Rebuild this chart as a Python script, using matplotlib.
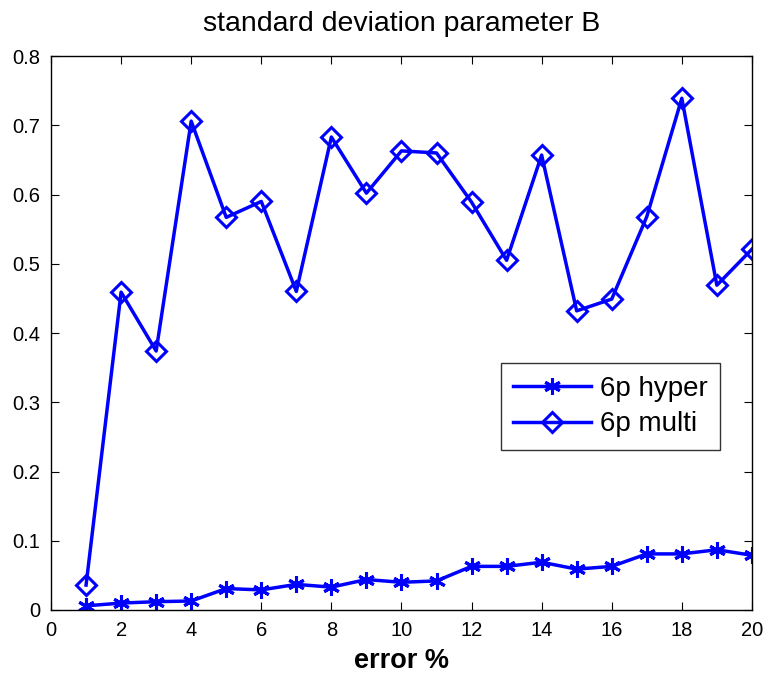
import matplotlib
matplotlib.use('Agg')
import matplotlib.pyplot as plt

plt.rcParams['font.family'] = ['Liberation Sans', 'DejaVu Sans']

err = list(range(1, 21))
hyper = [0.006, 0.010, 0.012, 0.013, 0.031, 0.029, 0.037, 0.033, 0.044, 0.040,
         0.042, 0.063, 0.063, 0.069, 0.059, 0.063, 0.081, 0.081, 0.087, 0.079]
multi = [0.036, 0.459, 0.374, 0.706, 0.567, 0.590, 0.460, 0.683, 0.602, 0.663,
         0.660, 0.589, 0.505, 0.657, 0.432, 0.449, 0.568, 0.739, 0.469, 0.521]

fig = plt.figure(figsize=(7.66, 6.75), dpi=100)
ax = fig.add_axes([0.0666, 0.0963, 0.915, 0.8207])

ax.plot(err, hyper, color='#0000ff', lw=2.5, marker=(6, 2, 0), ms=12, mew=2.2, label='6p hyper')
ax.plot(err, multi, color='#0000ff', lw=2.5, marker='D', ms=10, mew=2.2, mfc='none', label='6p multi')

ax.set_xlim(0, 20)
ax.set_ylim(0, 0.8)
ax.set_xticks(range(0, 21, 2))
ax.set_yticks([i / 10 for i in range(9)])
ax.set_yticklabels(['0', '0.1', '0.2', '0.3', '0.4', '0.5', '0.6', '0.7', '0.8'])
ax.tick_params(direction='in', top=True, right=True, labelsize=14.5, length=6, pad=8)
for s in ax.spines.values():
    s.set_linewidth(1)

ax.set_title('standard deviation parameter B', fontsize=20.5, pad=18)
ax.set_xlabel('error %', fontsize=19.5, fontweight='bold', labelpad=6)

leg = ax.legend(loc='lower left', bbox_to_anchor=(0.642, 0.289), fontsize=20,
                frameon=True, fancybox=False, edgecolor='black', handlelength=2.8,
                handletextpad=0.3, borderpad=0.45, labelspacing=0.35, borderaxespad=0)
leg.get_frame().set_linewidth(1)

fig.savefig('out.png', dpi=100)
